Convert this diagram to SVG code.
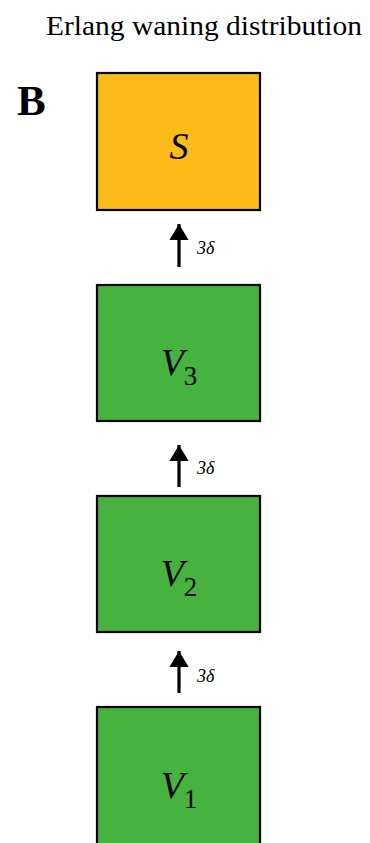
<svg xmlns="http://www.w3.org/2000/svg" width="370" height="843" viewBox="0 0 370 843">
<defs>
<style>
.box{stroke:#000;stroke-width:2.2}
.s{fill:#FDBB19}
.v{fill:#45B33D}
.lbl{font-family:"Liberation Serif",serif;font-style:italic;font-size:38px;fill:#000;text-anchor:middle}
.sub{font-size:27px;font-style:normal}
.rate{font-family:"Liberation Serif",serif;font-style:italic;font-size:18px;fill:#000}
.arr{stroke:#000;stroke-width:3.2}
</style>
<marker id="ah" markerWidth="6" markerHeight="6" refX="5" refY="3" orient="auto" markerUnits="strokeWidth">
<path d="M0,0 L5,3 L0,6 Z" fill="#000"/>
</marker>
</defs>
<text x="46" y="35" font-family="Liberation Serif,serif" font-size="28" textLength="316" lengthAdjust="spacingAndGlyphs" fill="#000">Erlang waning distribution</text>
<text x="17" y="115" font-family="Liberation Serif,serif" font-size="43" font-weight="bold" fill="#000">B</text>
<g id="S">
<rect class="box s" x="97" y="73" width="163" height="137"/>
<text class="lbl" x="179" y="159">S</text>
</g>
<g id="V3">
<rect class="box v" x="97" y="285" width="163" height="136"/>
<text class="lbl" x="179" y="375">V<tspan class="sub" dy="10">3</tspan></text>
</g>
<g id="V2">
<rect class="box v" x="97" y="496" width="163" height="136"/>
<text class="lbl" x="179" y="586">V<tspan class="sub" dy="10">2</tspan></text>
</g>
<g id="V1">
<rect class="box v" x="97" y="707" width="163" height="150"/>
<text class="lbl" x="179" y="798">V<tspan class="sub" dy="10">1</tspan></text>
</g>
<g id="connectors">
<line class="arr" x1="179" y1="267" x2="179" y2="224" marker-end="url(#ah)"/>
<line class="arr" x1="179" y1="487" x2="179" y2="445" marker-end="url(#ah)"/>
<line class="arr" x1="179" y1="693" x2="179" y2="651" marker-end="url(#ah)"/>
<text class="rate" x="197" y="254">3δ</text>
<text class="rate" x="197" y="474">3δ</text>
<text class="rate" x="197" y="682">3δ</text>
</g>
</svg>
